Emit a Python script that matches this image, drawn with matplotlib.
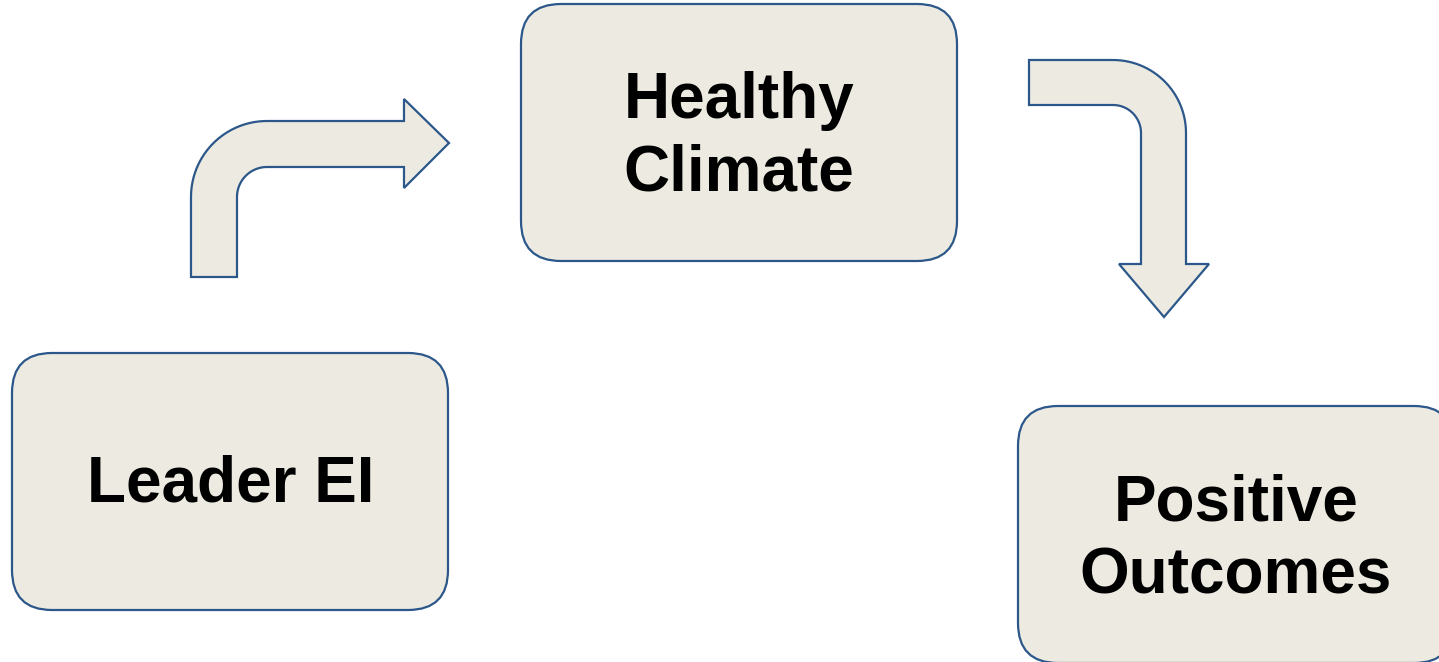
import numpy as np
import matplotlib
matplotlib.use("Agg")
import matplotlib.pyplot as plt
from matplotlib.patches import FancyBboxPatch, Polygon

# node labels of the diagram
labels = ["Leader EI", "Healthy\nClimate", "Positive\nOutcomes"]

# layout in pixel units (x right, y down)
boxes = [(12, 353), (521, 4), (1018, 406)]
boxW, boxH = 436, 257
textPos = [(231, 484), (739, 137), (1236, 540)]

FILL = "#EDEBE1"
EDGE = "#2C578A"


def arc(cx, cy, r, a0, a1, n=30):
    t = np.linspace(a0, a1, n)
    return list(zip(cx + r * np.cos(t), cy + r * np.sin(t)))


def bentArrowRight():
    pts = [(191, 277)]
    pts += arc(267, 197, 76, np.pi, 1.5 * np.pi)
    pts += [(404, 121), (404, 99), (449, 143), (404, 188), (404, 167)]
    pts += arc(267, 197, 30, 1.5 * np.pi, np.pi)
    pts += [(237, 277)]
    return pts


def bentArrowDown():
    pts = [(1029, 60)]
    pts += arc(1113, 133, 73, 1.5 * np.pi, 2 * np.pi)
    pts += [(1186, 264), (1209, 264), (1164, 317), (1119, 264), (1141, 264)]
    pts += arc(1113, 133, 28, 2 * np.pi, 1.5 * np.pi)
    pts += [(1029, 105)]
    return pts


fig = plt.figure(figsize=(14.39, 6.62), dpi=100)
ax = fig.add_axes([0, 0, 1, 1])
ax.set_xlim(0, 1439)
ax.set_ylim(662, 0)
ax.axis("off")

for (x, y), label, (tx, ty) in zip(boxes, labels, textPos):
    box = FancyBboxPatch((x, y), boxW, boxH,
                         boxstyle="round,pad=0,rounding_size=40",
                         facecolor=FILL, edgecolor=EDGE, linewidth=1.6)
    ax.add_patch(box)
    ax.text(tx, ty, label, ha="center", va="center", fontsize=46,
            fontweight="bold", family="Liberation Sans", linespacing=1.27,
            color="black")

for pts in [bentArrowRight(), bentArrowDown()]:
    ax.add_patch(Polygon(pts, closed=True, facecolor=FILL, edgecolor=EDGE,
                         linewidth=1.6, joinstyle="miter"))

fig.savefig("out.png", dpi=100, facecolor="white")
